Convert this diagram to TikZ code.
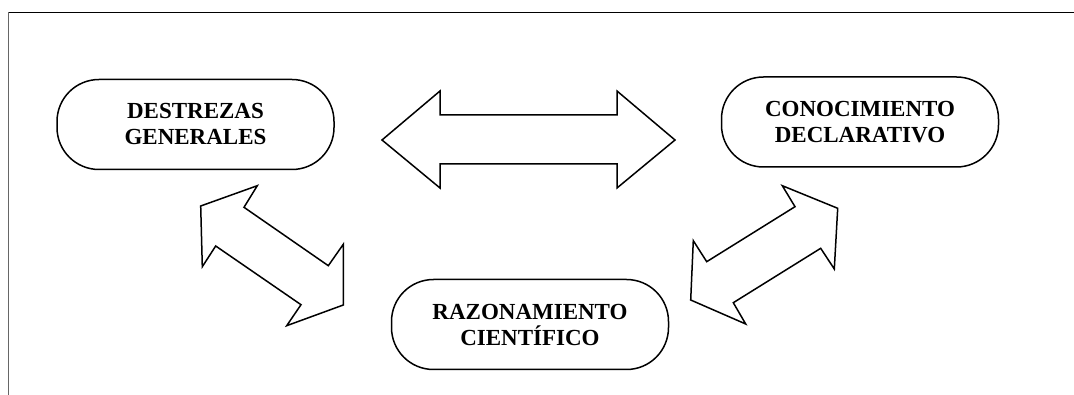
\documentclass[tikz,border=0pt]{standalone}
\usepackage{fontspec}
\setmainfont{Liberation Serif}
\usetikzlibrary{shapes.geometric}

\begin{document}
\begin{tikzpicture}[x=1pt,y=-1pt]
\tikzstyle{block} = [rectangle, draw=black, line width=1.5pt, rounded corners=42pt,
minimum width=277pt, minimum height=90pt, align=center,
font=\fontsize{23}{26}\selectfont\bfseries, inner sep=0pt]
\tikzstyle{bigarrow} = [draw=black, line width=1.5pt, line join=miter, fill=white]
\tikzstyle{frame} = [draw=black, line width=1.8pt]

\useasboundingbox (0,0) rectangle (1074,395);

% frame
\draw[frame] (8.5,12.5) -- (1074,12.5);
\draw[draw=black!60, line width=1pt] (8.5,12.5) -- (8.5,395);

% nodes
\node [block] (destrezas) at (195.5,124.5) {DESTREZAS\\GENERALES};
\node [block] (conocimiento) at (860,122) {CONOCIMIENTO\\DECLARATIVO};
\node [block] (razonamiento) at (530,324.5) {RAZONAMIENTO\\CIENTÍFICO};

% arrow between the two upper blocks
\draw[bigarrow] (382,140) -- (440,91) -- (440,115) -- (617,115) -- (617,91)
  -- (675,140) -- (617,188) -- (617,164) -- (440,164) -- (440,188) -- cycle;

% arrow on the left
\draw[bigarrow] (200.7,206) -- (257.3,185.7) -- (244,207.3) -- (328.3,265.7)
  -- (343.3,244.3) -- (343.3,305) -- (286.7,325.7) -- (301,304.7)
  -- (215.7,246) -- (202.3,266.7) -- cycle;

% arrow on the right
\draw[bigarrow] (782.3,185.7) -- (837.7,208.3) -- (834.3,269) -- (820.7,248.3)
  -- (733.3,302.7) -- (745.7,324) -- (690.7,300) -- (693.3,240.7)
  -- (706.7,261.7) -- (795,206.7) -- cycle;

\end{tikzpicture}
\end{document}
